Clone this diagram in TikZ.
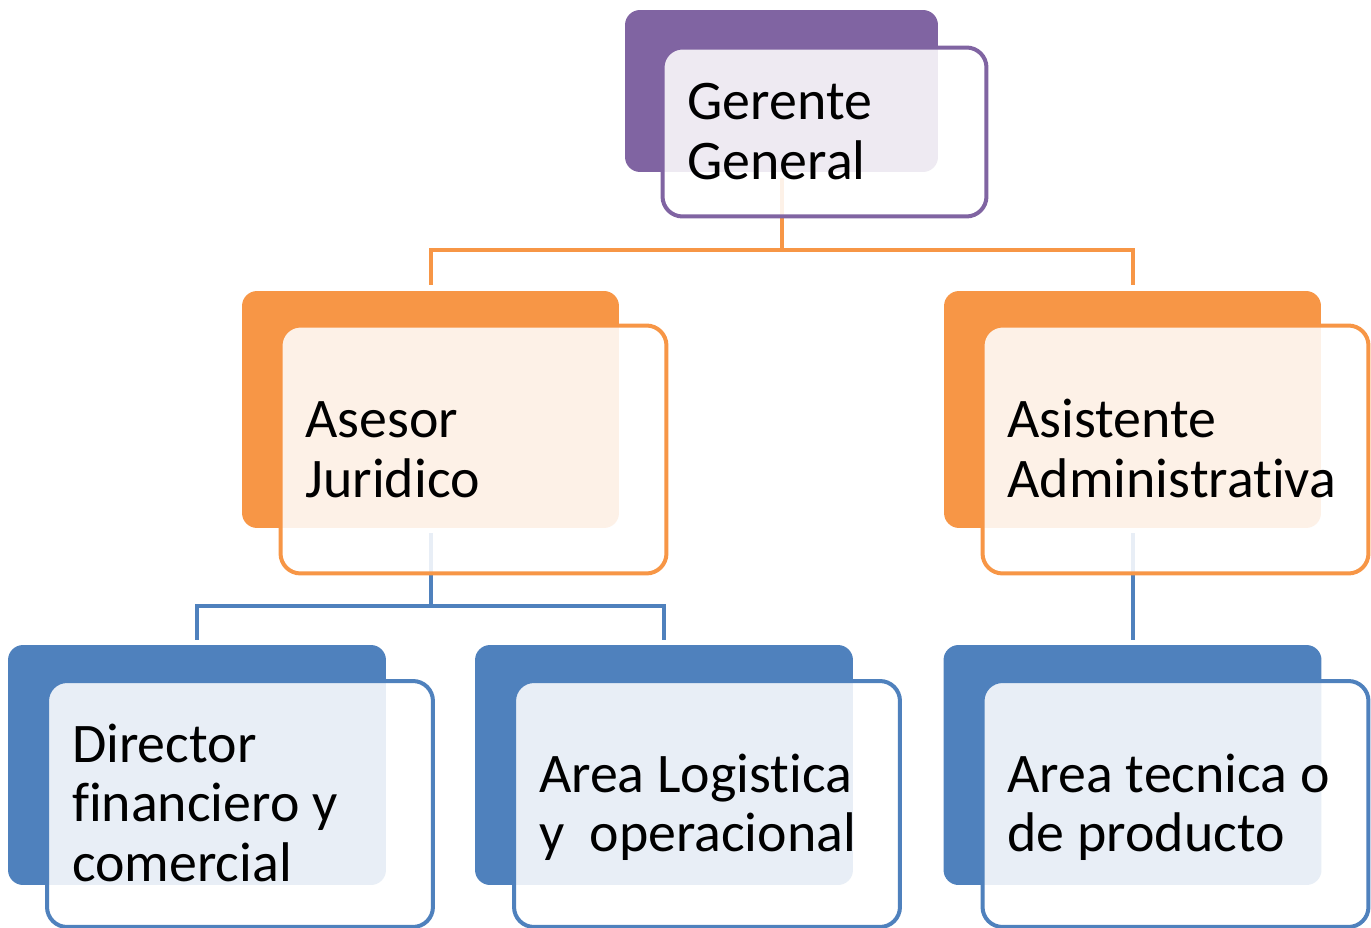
\documentclass[tikz,border=0pt]{standalone}
\usepackage{fontspec}
\setmainfont{Carlito}[Ligatures=NoCommon]
\definecolor{purp}{HTML}{8064A2}
\definecolor{orng}{HTML}{F79646}
\definecolor{blu}{HTML}{4F81BD}

\tikzset{
	backbox/.style={fill=#1, rounded corners=.3cm, inner sep=0pt},
	frontbox/.style={draw=#1, line width=.08cm, fill=white, fill opacity=.87, text opacity=1,
		rounded corners=.4cm, inner sep=0pt, align=flush left, text height=.72cm,
		font=\fontsize{31.8pt}{34.1pt}\selectfont},
	link/.style={draw=#1, line width=.08cm},
	toplvl/.style={minimum width=6.26cm, minimum height=3.24cm},
	toplvlf/.style={minimum width=6.48cm, minimum height=3.38cm, text width=5.48cm},
	midlvl/.style={minimum width=7.54cm, minimum height=4.74cm},
	midlvlf/.style={minimum width=7.72cm, minimum height=4.96cm, text width=6.72cm},
	lowlvl/.style={minimum width=7.56cm, minimum height=4.8cm},
	lowlvlf/.style={minimum width=7.72cm, minimum height=4.92cm, text width=6.72cm}
}

\begin{document}
\begin{tikzpicture}[x=.02cm, y=-.02cm]
\useasboundingbox (0,0) rectangle (1371,928);

% back boxes
\node[backbox=purp, toplvl] (gerb) at (781.5,91) {};
\node[backbox=orng, midlvl] (asb) at (430.5,409.5) {};
\node[backbox=orng, midlvl] (asib) at (1132.5,409.5) {};
\node[backbox=blu, lowlvl] (dirb) at (197,765) {};
\node[backbox=blu, lowlvl] (logb) at (664,765) {};
\node[backbox=blu, lowlvl] (tecb) at (1132.5,765) {};

% connectors
\draw[link=orng] ([yshift=-.12cm]gerb.south) -- ([yshift=.82cm]gerb.south |- asb.north);
\draw[link=orng] ([yshift=.12cm]asb.north) -- ++(0,.7cm) -| ([yshift=.12cm]asib.north);
\draw[link=blu] ([yshift=-.1cm]asb.south) -- ([yshift=.78cm]asb.south |- dirb.north);
\draw[link=blu] ([yshift=.1cm]dirb.north) -- ++(0,.68cm) -| ([yshift=.1cm]logb.north);
\draw[link=blu] ([yshift=-.1cm]asib.south) -- ([yshift=.1cm]tecb.north);

% front boxes
\node[frontbox=purp, toplvlf, text depth=1.2cm] (gerf) at ([shift={(.86cm,-.82cm)}]gerb.center) {Gerente\\General};
\node[frontbox=orng, midlvlf, text depth=1.2cm] (asf) at ([shift={(.86cm,-.8cm)}]asb.center) {Asesor\\Juridico};
\node[frontbox=orng, midlvlf, text depth=1.2cm] (asif) at ([shift={(.86cm,-.8cm)}]asib.center) {Asistente\\Administrativa};
\node[frontbox=blu, lowlvlf, text depth=2.4cm] (dirf) at ([shift={(.86cm,-.78cm)}]dirb.center) {Director\\financiero y\\comercial};
\node[frontbox=blu, lowlvlf, text depth=1.2cm] (logf) at ([shift={(.86cm,-.78cm)}]logb.center) {Area Logistica\\y~ operacional};
\node[frontbox=blu, lowlvlf, text depth=1.2cm] (tecf) at ([shift={(.86cm,-.78cm)}]tecb.center) {Area tecnica o\\de producto};

\end{tikzpicture}
\end{document}
